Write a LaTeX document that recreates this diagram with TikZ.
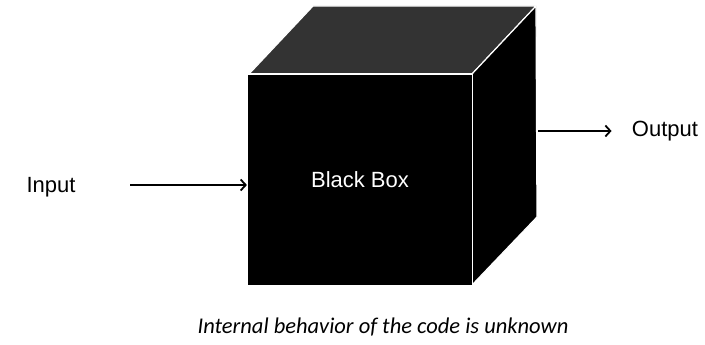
\documentclass[tikz,border=0pt]{standalone}
\usepackage{fontspec}
\setsansfont{Liberation Sans}
\newfontfamily\notefont{Carlito}
\usetikzlibrary{arrows.meta,positioning}

\begin{document}
\begin{tikzpicture}[x=1pt,y=-1pt,thick,
	face/.style = {draw=white, line width=1.2pt, fill=black},
	box node/.style = {face, minimum width=225pt, minimum height=212pt, inner sep=0pt,
		text=white, font=\sffamily\fontsize{22}{26}\selectfont},
	io node/.style = {font=\sffamily\fontsize{22}{26}\selectfont, inner sep=0pt},
	flow/.style = {line width=1.8pt, -{Straight Barb[length=5pt,width=11pt,line width=1.8pt]}}]
	\useasboundingbox (0,0) rectangle (705,345);

	% cube faces
	\draw[face, fill=black!80] (249,74) -- (313,6) -- (536,6) -- (472,74) -- cycle;
	\draw[face] (472,74) -- (536,6) -- (537,217) -- (472,285) -- cycle;
	\node[box node] (box) at (360,180) {Black Box};

	\node[io node] (input) at (51,187) {Input};
	\node[io node] (output) at (665,131) {Output};
	\node[font=\notefont\itshape\fontsize{22.5}{26}\selectfont] (note) at (383,327) {Internal behavior of the code is unknown};

	\coordinate (in start) at (130,185);
	\coordinate (out start) at (538,131);
	\draw[flow] (in start) -- (in start -| box.west);
	\draw[flow] (out start) -- ([xshift=-20pt]output.west);
\end{tikzpicture}
\end{document}
